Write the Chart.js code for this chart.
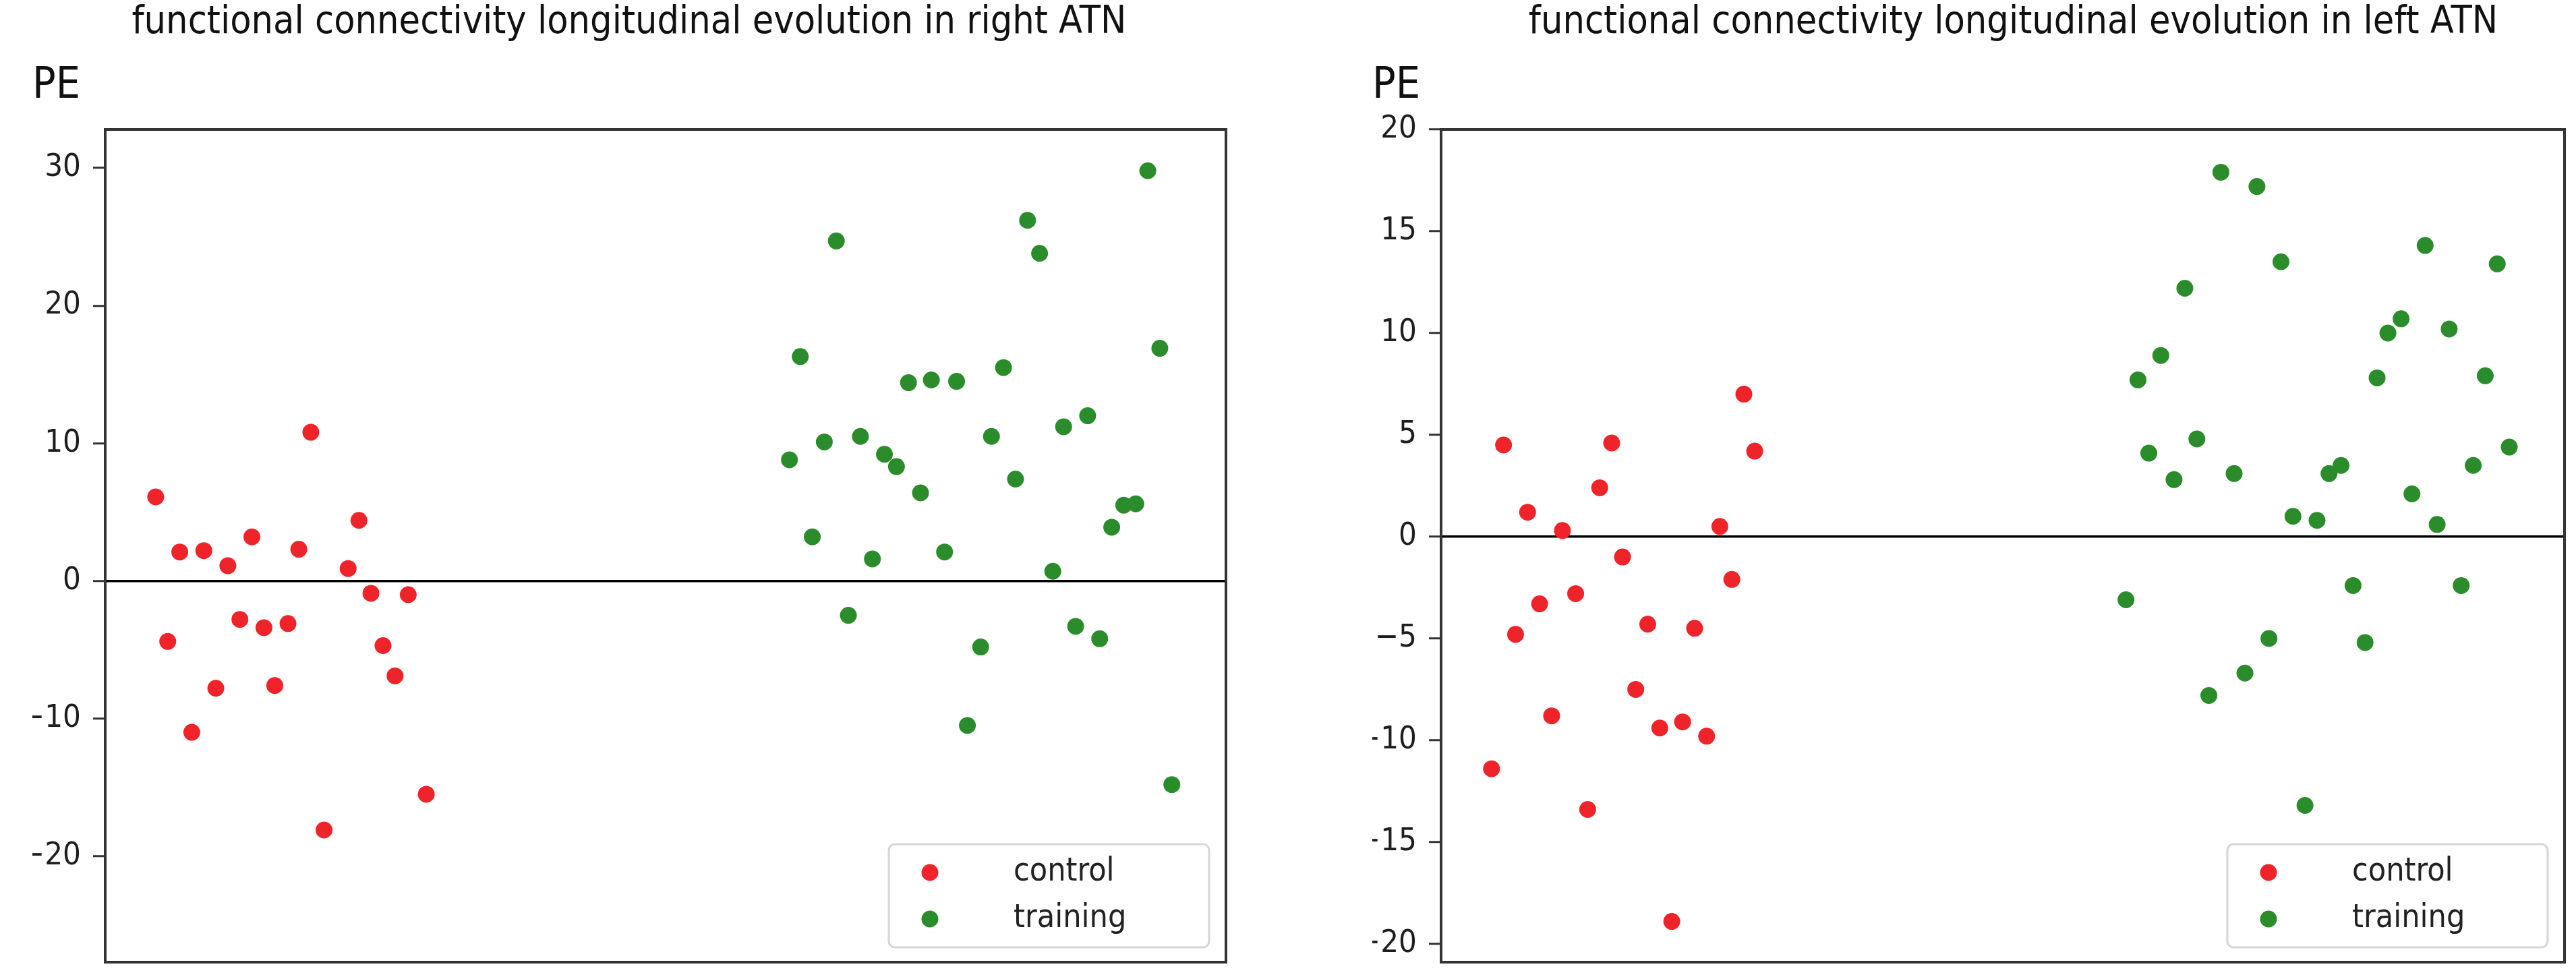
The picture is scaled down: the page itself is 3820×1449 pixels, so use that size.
<!DOCTYPE html>
<html>
<head>
<meta charset="utf-8">
<script src="https://cdn.jsdelivr.net/npm/chart.js@4.4.1/dist/chart.umd.min.js"></script>
<style>
  html, body { margin: 0; padding: 0; background: #fff; overflow: hidden; }
  body { width: 3820px; height: 1449px; position: relative; }
  .panel { position: absolute; top: 0; height: 1449px; }
  #p1 { left: 0; width: 1900px; }
  #p2 { left: 1900px; width: 2040px; }
</style>
</head>
<body>
<div class="panel" id="p1"><canvas id="c1"></canvas></div>
<div class="panel" id="p2"><canvas id="c2"></canvas></div>
<script>
// right ATN (left panel)
var rightCtrlX = [4.2, 5.2, 6.2, 7.2, 8.2, 9.2, 10.2, 11.2, 12.2, 13.2, 14.1, 15.2, 16.1, 17.1, 18.2, 20.2, 21.1, 22.1, 23.1, 24.1, 25.2, 26.7];
var rightCtrlY = [6.1, -4.4, 2.1, -11.0, 2.2, -7.8, 1.1, -2.8, 3.2, -3.4, -7.6, -3.1, 2.3, 10.8, -18.1, 0.9, 4.4, -0.9, -4.7, -6.9, -1.0, -15.5];
var rightTrainX = [56.9, 57.8, 58.8, 59.8, 60.8, 61.8, 62.8, 63.8, 64.8, 65.8, 66.8, 67.8, 68.7, 69.8, 70.8, 71.7, 72.8, 73.7, 74.7, 75.7, 76.7, 77.7, 78.8, 79.7, 80.7, 81.7, 82.7, 83.7, 84.7, 85.7, 86.7, 87.7, 88.7];
var rightTrainY = [8.8, 16.3, 3.2, 10.1, 24.7, -2.5, 10.5, 1.6, 9.2, 8.3, 14.4, 6.4, 14.6, 2.1, 14.5, -10.5, -4.8, 10.5, 15.5, 7.4, 26.2, 23.8, 0.7, 11.2, -3.3, 12.0, -4.2, 3.9, 5.5, 5.6, 29.8, 16.9, -14.8];
var rightTicks = [-20, -10, 0, 10, 20, 30];

// left ATN (right panel)
var leftCtrlX = [4.2, 5.2, 6.2, 7.2, 8.2, 9.2, 10.1, 11.2, 12.2, 13.2, 14.2, 15.1, 16.2, 17.2, 18.2, 19.2, 20.1, 21.1, 22.1, 23.2, 24.2, 25.2, 26.1];
var leftCtrlY = [-11.4, 4.5, -4.8, 1.2, -3.3, -8.8, 0.3, -2.8, -13.4, 2.4, 4.6, -1.0, -7.5, -4.3, -9.4, -18.9, -9.1, -4.5, -9.8, 0.5, -2.1, 7.0, 4.2];
var leftTrainX = [57.0, 58.0, 58.9, 59.9, 61.0, 61.9, 62.9, 63.9, 64.9, 66.0, 66.9, 67.9, 68.9, 69.9, 70.9, 71.9, 72.9, 73.9, 74.9, 75.9, 76.9, 77.9, 78.8, 79.9, 80.8, 81.9, 82.9, 83.9, 84.9, 85.9, 86.9, 87.9, 88.9];
var leftTrainY = [-3.1, 7.7, 4.1, 8.9, 2.8, 12.2, 4.8, -7.8, 17.9, 3.1, -6.7, 17.2, -5.0, 13.5, 1.0, -13.2, 0.8, 3.1, 3.5, -2.4, -5.2, 7.8, 10.0, 10.7, 2.1, 14.3, 0.6, 10.2, -2.4, 3.5, 7.9, 13.4, 4.4];
var leftTicks = [-20, -15, -10, -5, 0, 5, 10, 15, 20];

var seriesNames = ['control', 'training'];
var red = 'rgb(238,36,42)';
var green = 'rgb(42,140,42)';
var FONT = "'DejaVu Sans Condensed', 'DejaVu Sans', sans-serif";

function pts(xs, ys) {
	var out = [];
	for (var i = 0; i < xs.length; i++) {
		out.push({x: xs[i], y: ys[i]});
	}
	return out;
}

// little round markers for the legend
function dot(color) {
	var c = document.createElement('canvas');
	c.width = 26; c.height = 26;
	var g = c.getContext('2d');
	g.fillStyle = color;
	g.beginPath();
	g.arc(13, 13, 12.5, 0, Math.PI * 2);
	g.fill();
	return c;
}
var dots = [dot(red), dot(green)];

function minus(v) {
	return v < 0 ? '\u2212' + Math.abs(v) : '' + v;
}

// frame around the axes + matplotlib-like legend box inside the plot
var boxFrame = {
	id: 'boxFrame',
	afterLayout: function(chart) {
		var a = chart.chartArea, lg = chart.legend;
		var fl = a.right - 25 - 475, ft = a.bottom - 22 - 153;
		lg.left = fl - 60;
		lg.top = ft - 3;
		lg.width = 560;
		lg.height = 210;
		lg.right = lg.left + lg.width;
		lg.bottom = lg.top + lg.height;
		chart.$legendFrame = {x: fl, y: ft, w: 475, h: 153};
	},
	beforeDraw: function(chart) {
		var f = chart.$legendFrame, ctx = chart.ctx;
		if (!f) return;
		ctx.save();
		ctx.beginPath();
		ctx.roundRect(f.x, f.y, f.w, f.h, 9);
		ctx.fillStyle = 'rgba(255,255,255,0.8)';
		ctx.fill();
		ctx.lineWidth = 3;
		ctx.strokeStyle = '#d6d6d6';
		ctx.stroke();
		ctx.restore();
	},
	afterDraw: function(chart) {
		var a = chart.chartArea, ctx = chart.ctx;
		ctx.save();
		ctx.lineWidth = 4;
		ctx.strokeStyle = '#333';
		ctx.strokeRect(a.left, a.top, a.right - a.left, a.bottom - a.top);
		ctx.restore();
	}
};

function makeChart(id, title, cx, cy, tx, ty, ymin, ymax, ticks, opt) {
	var ctx = document.getElementById(id);
	var scales = {
		x: {type: 'linear', display: false, min: 0, max: opt.xmax},
		y: {
			type: 'linear', min: ymin, max: ymax,
			afterBuildTicks: function(s) {
				s.ticks = ticks.map(function(v) { return {value: v}; });
			},
			afterFit: function(s) {
				s.width = opt.yWidth;
				s.paddingTop = 0;
				s.paddingBottom = 0;
			},
			border: {display: false},
			grid: {
				drawOnChartArea: true,
				color: function(c) {
					return c.tick && c.tick.value === 0 ? '#000' : 'rgba(0,0,0,0)';
				},
				lineWidth: 3.5,
				tickColor: '#333',
				tickWidth: 3,
				tickLength: 18
			},
			ticks: {
				padding: 18,
				color: '#1e1e1e',
				font: {family: FONT, size: 47},
				callback: function(v) { return minus(v); }
			}
		}
	};
	if (opt.y2) {
		scales.y2 = {
			type: 'linear', position: 'right', display: true,
			grid: {display: false}, border: {display: false}, ticks: {display: false},
			afterFit: function(s) { s.width = opt.y2; }
		};
	}
	return new Chart(ctx, {
		type: 'scatter',
		data: {
			datasets: [
				{
					label: seriesNames[0],
					data: pts(cx, cy),
					backgroundColor: red,
					borderWidth: 0,
					pointRadius: 12.5,
					pointHoverRadius: 12.5
				},
				{
					label: seriesNames[1],
					data: pts(tx, ty),
					backgroundColor: green,
					borderWidth: 0,
					pointRadius: 12.5,
					pointHoverRadius: 12.5
				}
			]
		},
		options: {
			responsive: true,
			maintainAspectRatio: false,
			animation: false,
			events: [],
			layout: {padding: {left: opt.padL, right: opt.padR, top: 0, bottom: 22}},
			scales: scales,
			plugins: {
				title: {
					display: true,
					text: title,
					color: '#111',
					font: {family: FONT, size: 57, weight: 'normal', lineHeight: 1.2},
					padding: {top: 0, bottom: 12}
				},
				subtitle: {
					display: true,
					text: 'PE',
					align: 'start',
					color: '#111',
					font: {family: FONT, size: 64, weight: 'normal', lineHeight: 1.2},
					padding: {top: 9.2, bottom: 25.6}
				},
				legend: {
					display: true,
					position: 'chartArea',
					fullSize: false,
					align: 'start',
					labels: {
						usePointStyle: true,
						pointStyleWidth: 200,
						padding: 21,
						color: '#222',
						font: {family: FONT, size: 48},
						generateLabels: function(chart) {
							var items = Chart.defaults.plugins.legend.labels.generateLabels(chart);
							items.forEach(function(it, i) { it.pointStyle = dots[i]; });
							return items;
						}
					}
				},
				tooltip: {enabled: false}
			}
		},
		plugins: [boxFrame]
	});
}

makeChart('c1', 'functional connectivity longitudinal evolution in right ATN',
	rightCtrlX, rightCtrlY, rightTrainX, rightTrainY, -27.7, 32.8, rightTicks,
	{xmax: 93.2, yWidth: 108, padL: 48, padR: 82});

makeChart('c2', 'functional connectivity longitudinal evolution in left ATN',
	leftCtrlX, leftCtrlY, leftTrainX, leftTrainY, -20.9, 20.0, leftTicks,
	{xmax: 93.5, yWidth: 102, padL: 135, padR: 4, y2: 133});
</script>
</body>
</html>
